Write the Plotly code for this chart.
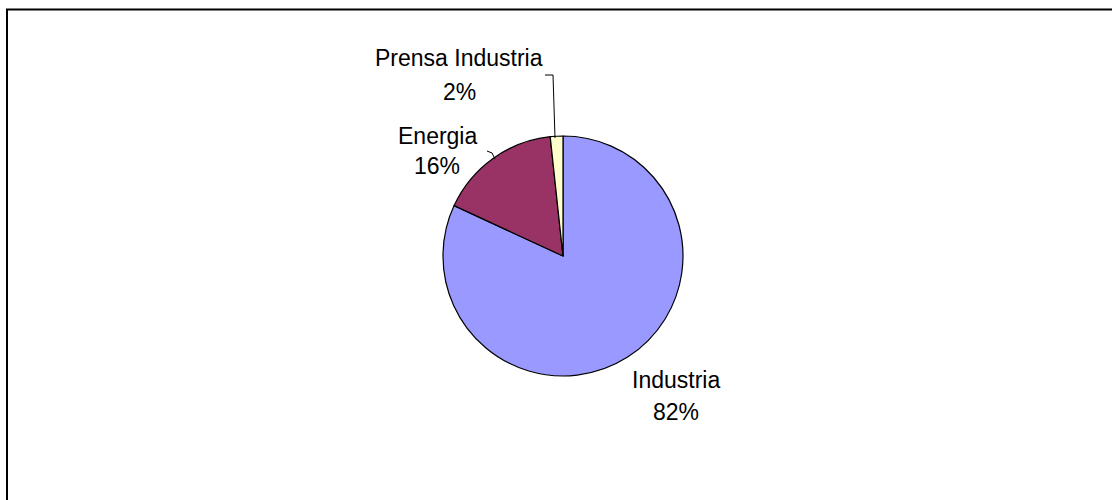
import plotly.graph_objects as go

labels = ["Industria", "Energia", "Prensa Industria"]
values = [81.9, 16.4, 1.7]
pct_text = ["82%", "16%", "2%"]
colors = ["#9999FF", "#993366", "#FFFFCC"]

W, H = 1112, 500
cx, cy, R = 563, 256, 120  # pie center / radius in page px


def fx(x):
    return x / W


def fy(y):
    return 1 - y / H


fig = go.Figure(go.Pie(
    labels=labels, values=values, sort=False, direction="clockwise",
    rotation=0, textinfo="none", hoverinfo="label+percent",
    marker=dict(colors=colors, line=dict(color="black", width=1.2)),
    domain=dict(x=[fx(cx - R), fx(cx + R)], y=[fy(cy + R), fy(cy - R)]),
    showlegend=False,
))

label_pos = {
    "Industria": (676, 380, 412),
    "Energia": (437, 136, 166),
    "Prensa Industria": (459, 58, 92),
}
font = dict(family="Liberation Sans, Arial, sans-serif", size=23, color="black")
ann = []
for lab, pt in zip(labels, pct_text):
    x, y1, y2 = label_pos[lab]
    ann.append(dict(x=fx(x), y=fy(y1), xref="paper", yref="paper", text=lab,
                    showarrow=False, font=font, xanchor="center", yanchor="middle"))
    ann.append(dict(x=fx(x), y=fy(y2), xref="paper", yref="paper", text=pt,
                    showarrow=False, font=font, xanchor="center", yanchor="middle"))

shapes = []
# chart frame: only its left and top edges fall inside the picture
frame = [(7, 520), (7, 9.5), (1130, 9.5)]
leaders = [
    [(545, 75), (553, 75), (555, 138)],
    [(487, 151), (492, 153), (495, 159)],
]
for pts, w in [(frame, 2)] + [(p, 1) for p in leaders]:
    path = "M " + " L ".join(f"{fx(x)},{fy(y)}" for x, y in pts)
    shapes.append(dict(type="path", xref="paper", yref="paper", path=path,
                       line=dict(color="black", width=w)))

fig.update_layout(
    width=W, height=H, margin=dict(l=0, r=0, t=0, b=0),
    paper_bgcolor="white", plot_bgcolor="white",
    annotations=ann, shapes=shapes,
)
fig.write_html("out.html", config={"displayModeBar": False},
               post_script="document.body.style.margin='0';document.body.style.overflow='hidden';")
